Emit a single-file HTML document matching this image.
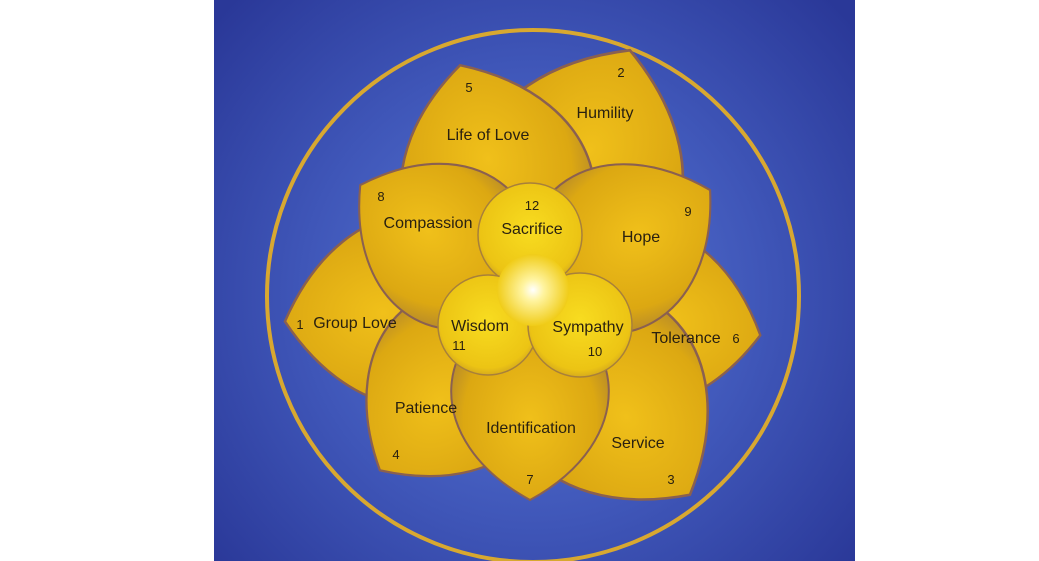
<!DOCTYPE html>
<html><head><meta charset="utf-8"><style>
html,body{margin:0;padding:0;background:#fff;width:1039px;height:561px;overflow:hidden}
svg{display:block}
text{font-family:"Liberation Sans",sans-serif;fill:#2a2110}
</style></head><body>
<svg width="1039" height="561" viewBox="0 0 1039 561">
<defs>
<radialGradient id="bg" cx="533" cy="295" r="420" gradientUnits="userSpaceOnUse">
<stop offset="0" stop-color="#5a7ad8"/><stop offset="0.55" stop-color="#3f56b8"/><stop offset="1" stop-color="#2a3898"/></radialGradient>
<radialGradient id="pet" cx="0.5" cy="0.4" r="0.65">
<stop offset="0" stop-color="#f0c01a"/><stop offset="0.65" stop-color="#dca812"/><stop offset="1" stop-color="#a07838"/></radialGradient>
<radialGradient id="inn" cx="0.5" cy="0.45" r="0.6">
<stop offset="0" stop-color="#f8dc20"/><stop offset="0.8" stop-color="#ecc414"/><stop offset="1" stop-color="#c89a20"/></radialGradient>
<radialGradient id="ctr" cx="0.5" cy="0.5" r="0.5">
<stop offset="0" stop-color="#ffffff"/><stop offset="0.3" stop-color="#fff4a0"/><stop offset="1" stop-color="#f0cc18"/></radialGradient>
<path id="p" d="M0,0 C-0.5,-0.15 -0.55,-0.7 0,-1 C0.55,-0.7 0.5,-0.15 0,0Z"/>
</defs>
<rect x="214" y="0" width="641" height="561" fill="url(#bg)"/>
<circle cx="533" cy="296" r="266" fill="none" stroke="#d8a830" stroke-width="4"/>
<g fill="url(#pet)" stroke="#8a6050" stroke-width="0.01">
<use href="#p" transform="translate(530,300) rotate(21.8) scale(269)"/>
<use href="#p" transform="translate(530,300) rotate(-16.6) scale(245)"/>
<use href="#p" transform="translate(530,300) rotate(-95) scale(246)"/>
<use href="#p" transform="translate(530,300) rotate(98.7) scale(233)"/>
<use href="#p" transform="translate(530,300) rotate(140.6) scale(252)"/>
<use href="#p" transform="translate(530,300) rotate(-138.6) scale(227)"/>
<use href="#p" transform="translate(530,300) rotate(180) scale(200)"/>
<use href="#p" transform="translate(530,300) rotate(-55.9) scale(205)"/>
<use href="#p" transform="translate(530,300) rotate(58.6) scale(211)"/>
</g>
<g fill="url(#inn)" stroke="#a8803a" stroke-width="1.5">
<circle cx="530" cy="235" r="52"/>
<circle cx="488" cy="325" r="50"/>
<circle cx="580" cy="325" r="52"/>
</g>
<circle cx="533" cy="290" r="36" fill="url(#ctr)"/>
<g font-size="16" text-anchor="middle">
<text x="605" y="118">Humility</text>
<text x="488" y="140">Life of Love</text>
<text x="428" y="228">Compassion</text>
<text x="532" y="234">Sacrifice</text>
<text x="641" y="242">Hope</text>
<text x="355" y="328">Group Love</text>
<text x="480" y="331">Wisdom</text>
<text x="588" y="332">Sympathy</text>
<text x="686" y="343">Tolerance</text>
<text x="426" y="413">Patience</text>
<text x="531" y="433">Identification</text>
<text x="638" y="448">Service</text>
</g>
<g font-size="13" text-anchor="middle">
<text x="621" y="77">2</text>
<text x="469" y="92">5</text>
<text x="381" y="201">8</text>
<text x="532" y="210">12</text>
<text x="688" y="216">9</text>
<text x="300" y="329">1</text>
<text x="459" y="350">11</text>
<text x="595" y="356">10</text>
<text x="736" y="343">6</text>
<text x="396" y="459">4</text>
<text x="530" y="484">7</text>
<text x="671" y="484">3</text>
</g>
</svg>
</body></html>
